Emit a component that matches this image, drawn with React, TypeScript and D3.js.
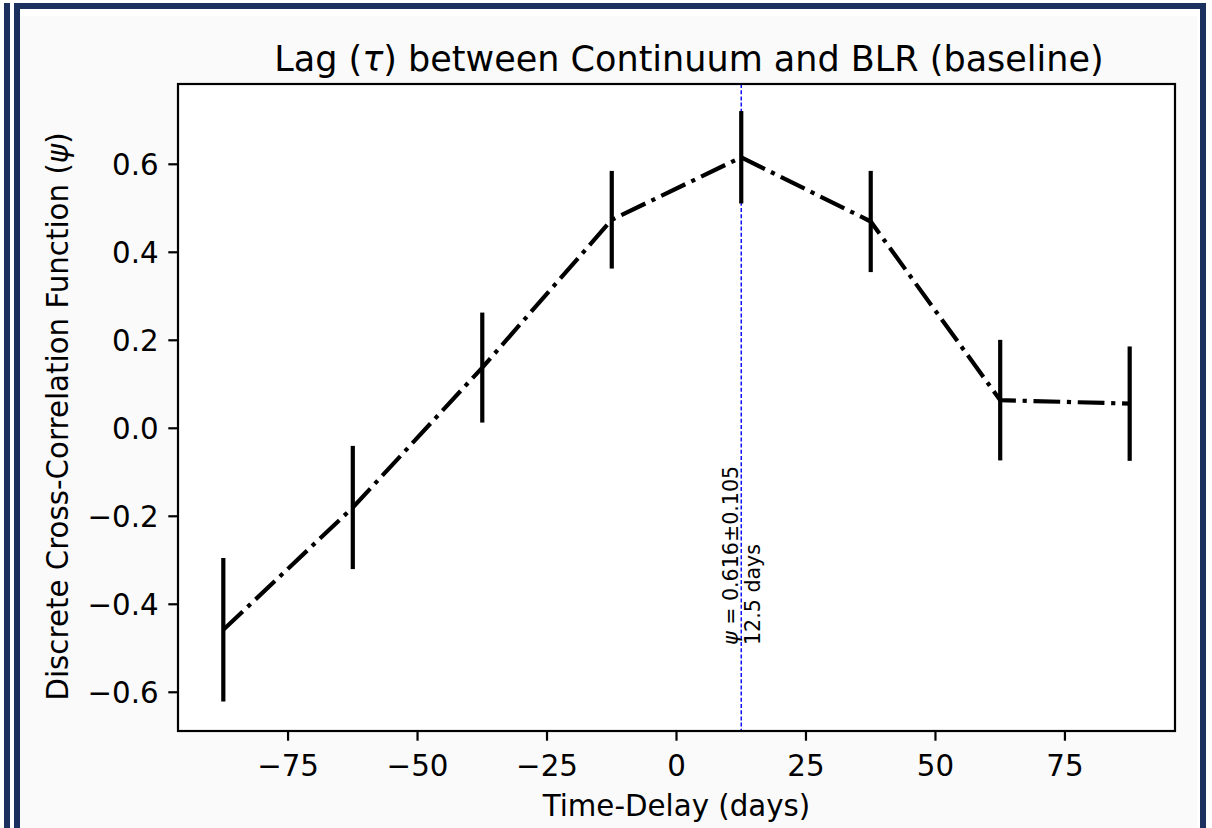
import React from "react";
import * as d3 from "d3";

const lags = [-87.5, -62.5, -37.5, -12.5, 12.5, 37.5, 62.5, 87.5];
const dcf = [-0.458, -0.18, 0.138, 0.474, 0.616, 0.47, 0.064, 0.056];
const dcfErr = [0.163, 0.14, 0.125, 0.111, 0.105, 0.115, 0.137, 0.13];
const xTicks = [-75, -50, -25, 0, 25, 50, 75];
const yTicks = [-0.6, -0.4, -0.2, 0.0, 0.2, 0.4, 0.6];
const peakLag = 12.5;
const peakText = "ψ = 0.616±0.105";
const peakDays = "12.5 days";
const xLabel = "Time-Delay (days)";
const yLabel = "Discrete Cross-Correlation Function (ψ)";

const W = 1212;
const H = 828;
const L = 178, R = 1175, T = 84, B = 731;
const NAVY = "#1b305e";
const FONT = "DejaVu Sans, sans-serif";
const FS = 29.3;

const fmtY = (v: number) => (v < 0 ? "\u2212" : "") + Math.abs(v).toFixed(1);
const fmtX = (v: number) => (v < 0 ? "\u2212" : "") + Math.abs(v).toString();

export default function App() {
  const x = d3.scaleLinear().domain([-96.25, 96.25]).range([L, R]);
  const y = d3.scaleLinear().domain([-0.688, 0.7825]).range([B, T]);
  const pts = lags.map((l, i) => [l, dcf[i]] as [number, number]);
  const line = d3
    .line<[number, number]>()
    .x((d) => x(d[0]))
    .y((d) => y(d[1]));
  const tickLen = 9.7;
  const lw = 4.2;
  return (
    <svg
      width={W}
      height={H}
      style={{ position: "absolute", left: 0, top: 0, display: "block" }}
      fontFamily={FONT}
    >
      <rect x={0} y={0} width={W} height={H} fill="#ffffff" />
      <rect x={20} y={16} width={1177} height={H - 16} fill="#fafafa" />
      {/* frame */}
      <rect x={4} y={3} width={6} height={H - 3} fill={NAVY} />
      <rect x={14} y={3} width={6} height={H - 3} fill={NAVY} />
      <rect x={14} y={3} width={1192} height={6} fill={NAVY} />
      <rect x={1200} y={3} width={6} height={H - 3} fill={NAVY} />

      {/* axes background */}
      <rect x={L} y={T} width={R - L} height={B - T} fill="#ffffff" />

      {/* peak line */}
      <line
        x1={x(peakLag)}
        x2={x(peakLag)}
        y1={T}
        y2={B}
        stroke="#0000ff"
        strokeWidth={1.4}
        strokeDasharray="4 2.2"
      />

      {/* error bars */}
      {lags.map((l, i) => (
        <line
          key={"e" + i}
          x1={x(l)}
          x2={x(l)}
          y1={y(dcf[i] - dcfErr[i])}
          y2={y(dcf[i] + dcfErr[i])}
          stroke="#000"
          strokeWidth={lw}
        />
      ))}
      {/* dash-dot line */}
      <path
        d={line(pts) || ""}
        fill="none"
        stroke="#000"
        strokeWidth={lw}
        strokeDasharray="26.7 6.7 4.2 6.7"
      />

      {/* annotation */}
      <text
        transform={`translate(${x(peakLag) - 3}, 645) rotate(-90)`}
        fontSize={20.6}
        fill="#000"
        textAnchor="start"
      >
        <tspan fontStyle="italic">{peakText.slice(0, 1)}</tspan>
        {peakText.slice(1)}
      </text>
      <text
        transform={`translate(${x(peakLag) + 19}, 645) rotate(-90)`}
        fontSize={20.6}
        fill="#000"
        textAnchor="start"
      >
        {peakDays}
      </text>

      {/* spines */}
      <rect
        x={L}
        y={T}
        width={R - L}
        height={B - T}
        fill="none"
        stroke="#000"
        strokeWidth={2.2}
      />

      {/* x ticks */}
      {xTicks.map((t) => (
        <g key={"x" + t}>
          <line x1={x(t)} x2={x(t)} y1={B} y2={B + tickLen} stroke="#000" strokeWidth={2.2} />
          <text x={x(t)} y={B + tickLen + 35} fontSize={FS} textAnchor="middle" fill="#000">
            {fmtX(t)}
          </text>
        </g>
      ))}
      {/* y ticks */}
      {yTicks.map((t) => (
        <g key={"y" + t}>
          <line x1={L - tickLen} x2={L} y1={y(t)} y2={y(t)} stroke="#000" strokeWidth={2.2} />
          <text
            x={L - tickLen - 9.7}
            y={y(t)}
            dy="0.36em"
            fontSize={FS}
            textAnchor="end"
            fill="#000"
          >
            {fmtY(t)}
          </text>
        </g>
      ))}

      {/* labels */}
      <text x={(L + R) / 2} y={816} fontSize={FS} textAnchor="middle" fill="#000">
        {xLabel}
      </text>
      <text
        transform={`translate(68, ${(T + B) / 2 + 9}) rotate(-90)`}
        fontSize={FS}
        textAnchor="middle"
        fill="#000"
      >
        {yLabel.slice(0, -2)}
        <tspan fontStyle="italic">ψ</tspan>
        {")"}
      </text>
      <text x={689} y={71} fontSize={35} textAnchor="middle" fill="#000">
        {"Lag ("}
        <tspan fontStyle="italic">τ</tspan>
        {") between Continuum and BLR (baseline)"}
      </text>
    </svg>
  );
}
